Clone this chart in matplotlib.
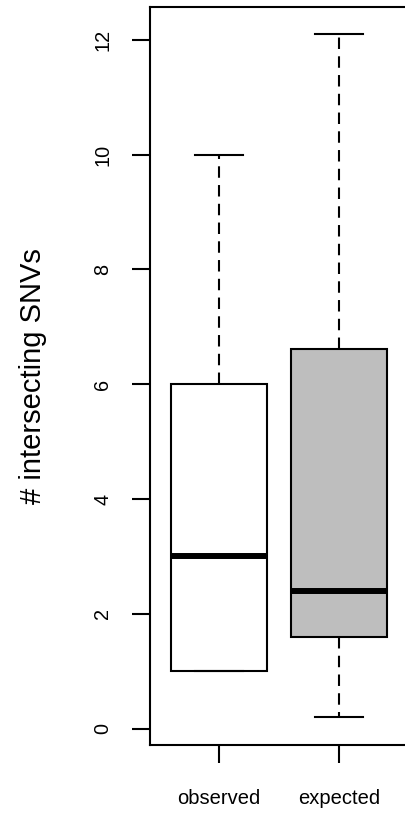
import matplotlib
matplotlib.use('Agg')
import matplotlib.pyplot as plt

plt.rcParams['font.family'] = ['Liberation Sans', 'DejaVu Sans']

categories = ['observed', 'expected']
whislo = [1.0, 0.2]
q1 = [1.0, 1.6]
med = [3.0, 2.4]
q3 = [6.0, 6.61]
whishi = [10.0, 12.1]
fills = ['white', '#BEBEBE']
yticks = [0, 2, 4, 6, 8, 10, 12]

W, H = 405, 817
fig = plt.figure(figsize=(W / 100, H / 100), dpi=100)
left, right, top, bottom = 149.7, 408.4, 6.7, 745.0
ax = fig.add_axes([left / W, (H - bottom) / H, (right - left) / W, (bottom - top) / H])

stats = []
for i, c in enumerate(categories):
    stats.append(dict(label=c, whislo=whislo[i], q1=q1[i], med=med[i],
                      q3=q3[i], whishi=whishi[i], fliers=[]))

bp = ax.bxp(stats, positions=[1, 2], widths=0.8, patch_artist=True,
            showfliers=False,
            boxprops=dict(linewidth=1.5, edgecolor='black'),
            medianprops=dict(linewidth=4.3, color='black', solid_capstyle='butt'),
            whiskerprops=dict(linewidth=1.5, color='black', linestyle=(0, (5.5, 3.5))),
            capprops=dict(linewidth=1.5, color='black'),
            capwidths=0.4)
for patch, f in zip(bp['boxes'], fills):
    patch.set_facecolor(f)

ax.set_xlim(0.42, 2.58)
ax.set_ylim(-0.284, 12.578)
ax.set_yticks(yticks)
ax.set_yticklabels([str(t) for t in yticks], rotation=90, va='center')
ax.set_xticks([1, 2])
ax.set_xticklabels(categories)

for s in ax.spines.values():
    s.set_linewidth(1.5)

ax.tick_params(axis='y', length=13, width=1.5, pad=14, labelsize=14.3)
ax.tick_params(axis='x', length=13, width=1.5, pad=19, labelsize=14.5)

fig.text(33 / W, 1 - 376.5 / H, '# intersecting SNVs', rotation=90,
         ha='center', va='center', fontsize=21)

fig.savefig('out.png', dpi=100)
